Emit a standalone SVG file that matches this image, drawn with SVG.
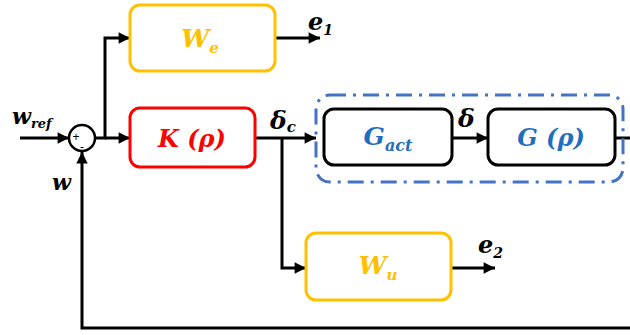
<svg xmlns="http://www.w3.org/2000/svg" width="630" height="335" viewBox="0 0 630 335">
<defs>
<marker id="ah" viewBox="0 0 10 10" refX="10" refY="5" markerWidth="4.3" markerHeight="3.8" orient="auto" markerUnits="strokeWidth"><path d="M0,0 L10,5 L0,10 z" fill="#000"/></marker>
<style>
.w{fill:none;stroke:#000;stroke-width:3}
.lbl{font-family:"DejaVu Serif","Liberation Serif",serif;font-weight:bold;font-style:italic}
.yb{fill:#fff;stroke:#FFC000;stroke-width:3}
.kb{fill:#fff;stroke:#FF0000;stroke-width:3}
.bb{fill:#fff;stroke:#000;stroke-width:3}
</style>
</defs>
<rect width="630" height="335" fill="#fff"/>
<g id="connectors">
<line class="w" x1="20" y1="138" x2="69" y2="138" marker-end="url(#ah)"/>
<polyline class="w" points="95,138 105,138 105,38 130,38" marker-end="url(#ah)"/>
<line class="w" x1="105" y1="138" x2="130" y2="138" marker-end="url(#ah)"/>
<line class="w" x1="275" y1="38" x2="320" y2="38" marker-end="url(#ah)"/>
<line class="w" x1="255" y1="138" x2="316" y2="138" marker-end="url(#ah)"/>
<polyline class="w" points="282,138 282,268 306,268" marker-end="url(#ah)"/>
<line class="w" x1="451" y1="268" x2="495" y2="268" marker-end="url(#ah)"/>
<line class="w" x1="452" y1="138" x2="488" y2="138" marker-end="url(#ah)"/>
<polyline class="w" points="615,138 630,138"/>
<polyline class="w" points="630,328 82,328 82,152" marker-end="url(#ah)"/>
</g>
<g id="sum">
<circle cx="82" cy="138" r="13" fill="#fff" stroke="#000" stroke-width="2.5"/>
<text x="76" y="141" font-family="Liberation Sans,sans-serif" font-size="12" text-anchor="middle">+</text>
<text x="82" y="151" font-family="Liberation Sans,sans-serif" font-size="12" text-anchor="middle">-</text>
</g>
<g id="actuator_group">
<rect x="316" y="95" width="307" height="87" rx="14" fill="none" stroke="#4472C4" stroke-width="3" stroke-dasharray="16,7,3,7"/>
</g>
<g id="We">
<rect class="yb" x="130" y="5" width="145" height="66" rx="10"/>
<text class="lbl" x="200" y="47" font-size="25" fill="#FFC000" text-anchor="middle">W<tspan font-size="15" dy="6">e</tspan></text>
</g>
<g id="K">
<rect class="kb" x="130" y="108" width="125" height="59" rx="10"/>
<text class="lbl" x="192" y="147" font-size="24" fill="#FF0000" text-anchor="middle">K (ρ)</text>
</g>
<g id="Gact">
<rect class="bb" x="324" y="109" width="128" height="56" rx="10"/>
<text class="lbl" x="388" y="145" font-size="25" fill="#1F6FBF" text-anchor="middle">G<tspan font-size="16" dy="6">act</tspan></text>
</g>
<g id="G">
<rect class="bb" x="488" y="109" width="127" height="56" rx="10"/>
<text class="lbl" x="551" y="146" font-size="24" fill="#1F6FBF" text-anchor="middle">G (ρ)</text>
</g>
<g id="Wu">
<rect class="yb" x="306" y="233" width="145" height="67" rx="10"/>
<text class="lbl" x="378" y="274" font-size="25" fill="#FFC000" text-anchor="middle">W<tspan font-size="15" dy="6">u</tspan></text>
</g>
<g id="labels" class="lbl" fill="#000">
<text x="12" y="124" font-size="22">w<tspan font-size="13" dy="4">ref</tspan></text>
<text x="52" y="190" font-size="22">w</text>
<text x="308" y="30" font-size="24">e<tspan font-size="14" dy="5">1</tspan></text>
<text x="478" y="253" font-size="24">e<tspan font-size="14" dy="5">2</tspan></text>
<text x="270" y="129" font-size="25">δ<tspan font-size="15" dy="3">c</tspan></text>
<text x="458" y="127" font-size="25">δ</text>
</g>
</svg>
